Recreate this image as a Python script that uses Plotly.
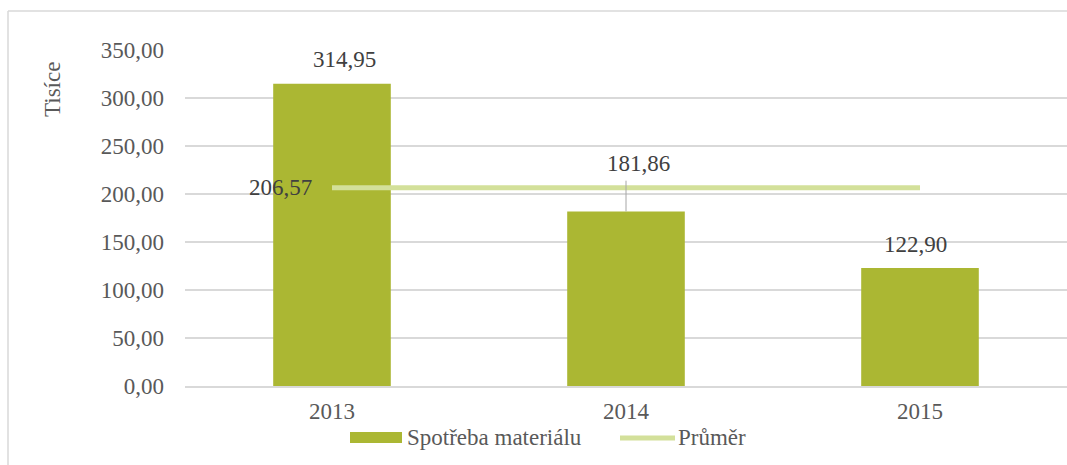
import plotly.graph_objects as go

# data
years = ["2013", "2014", "2015"]
spotreba = [314.95, 181.86, 122.90]
prumer = [206.57, 206.57, 206.57]
y_ticks = [0, 50, 100, 150, 200, 250, 300, 350]
y_tick_text = ["0,00", "50,00", "100,00", "150,00", "200,00", "250,00", "300,00", "350,00"]

BAR = "#ABB733"
AVG = "#D3E09A"
GRID = "#D9D9D9"
FONT = "Liberation Serif"

# plot area in pixels (for paper-coord helpers)
L, R, T, B = 185, 1067, 50, 386


def px(x):
    return (x - L) / (R - L)


def py(y):
    return (B - y) / (B - T)


def fmt(v):
    return f"{v:.2f}".replace(".", ",")


idx = list(range(len(years)))

fig = go.Figure()

fig.add_trace(go.Bar(
    x=idx, y=spotreba, name="Spotřeba materiálu", width=0.4,
    marker=dict(color=BAR, line=dict(width=0)),
    showlegend=False,
))
fig.add_trace(go.Scatter(
    x=idx, y=prumer, name="Průměr", mode="lines",
    line=dict(color=AVG, width=5),
    showlegend=False,
))

# data labels
shifts = [(12, 24), (12, 48), (-5, 24)]
for i, v, (dx, dy) in zip(idx, spotreba, shifts):
    fig.add_annotation(x=i, y=v, text=fmt(v), showarrow=False,
                       xshift=dx, yshift=dy,
                       font=dict(family=FONT, size=23, color="#404040"))

# leader line for 2014 label
fig.add_shape(type="line", xref="x", yref="y",
              x0=idx[1], x1=idx[1], y0=spotreba[1], y1=spotreba[1] + 32,
              line=dict(color="#A6A6A6", width=1))

fig.add_annotation(x=idx[0], y=prumer[0], text=fmt(prumer[0]), showarrow=False,
                   xanchor="right", xshift=-18, yshift=0,
                   font=dict(family=FONT, size=23, color="#404040"))

# axis title
fig.add_annotation(xref="paper", yref="paper", x=px(52), y=py(90), text="Tisíce",
                   xanchor="center", yanchor="middle",
                   textangle=-90, showarrow=False,
                   font=dict(family=FONT, size=23, color="#595959"))

# custom legend
fig.add_shape(type="rect", xref="paper", yref="paper",
              x0=px(350), x1=px(402), y0=py(443), y1=py(432),
              fillcolor=BAR, line=dict(width=0))
fig.add_annotation(xref="paper", yref="paper", x=px(405), y=py(438), text="Spotřeba materiálu",
                   xanchor="left", yanchor="middle", showarrow=False,
                   font=dict(family=FONT, size=23, color="#595959"))
fig.add_shape(type="line", xref="paper", yref="paper",
              x0=px(620), x1=px(675), y0=py(438), y1=py(438),
              line=dict(color=AVG, width=5))
fig.add_annotation(xref="paper", yref="paper", x=px(676), y=py(438), text="Průměr",
                   xanchor="left", yanchor="middle", showarrow=False,
                   font=dict(family=FONT, size=23, color="#595959"))

# chart border (left and top visible)
fig.add_shape(type="line", xref="paper", yref="paper",
              x0=px(8), x1=px(8), y0=py(11), y1=py(480),
              line=dict(color=GRID, width=1.5))
fig.add_shape(type="line", xref="paper", yref="paper",
              x0=px(8), x1=px(1080), y0=py(11), y1=py(11),
              line=dict(color=GRID, width=1.5))

fig.update_xaxes(
    range=[-0.5, 2.5], tickvals=idx, ticktext=years,
    showgrid=False, zeroline=False, showline=True, linecolor=GRID, linewidth=1.5,
    ticks="", ticklabelstandoff=4,
    tickfont=dict(family=FONT, size=23, color="#595959"),
)
fig.update_yaxes(
    range=[0, 350], tickvals=y_ticks, ticktext=y_tick_text,
    showgrid=True, gridcolor=GRID, gridwidth=1.5, zeroline=False, showline=False,
    ticklabelstandoff=20,
    tickfont=dict(family=FONT, size=23, color="#595959"),
)

fig.update_layout(
    width=1067, height=465,
    margin=dict(l=L, r=1067 - R, t=T, b=465 - B, autoexpand=False),
    showlegend=False,
    plot_bgcolor="white", paper_bgcolor="white",
    font=dict(family=FONT),
)

fig.write_html("out.html", config={"displayModeBar": False},
               post_script="document.body.style.margin='0';")
